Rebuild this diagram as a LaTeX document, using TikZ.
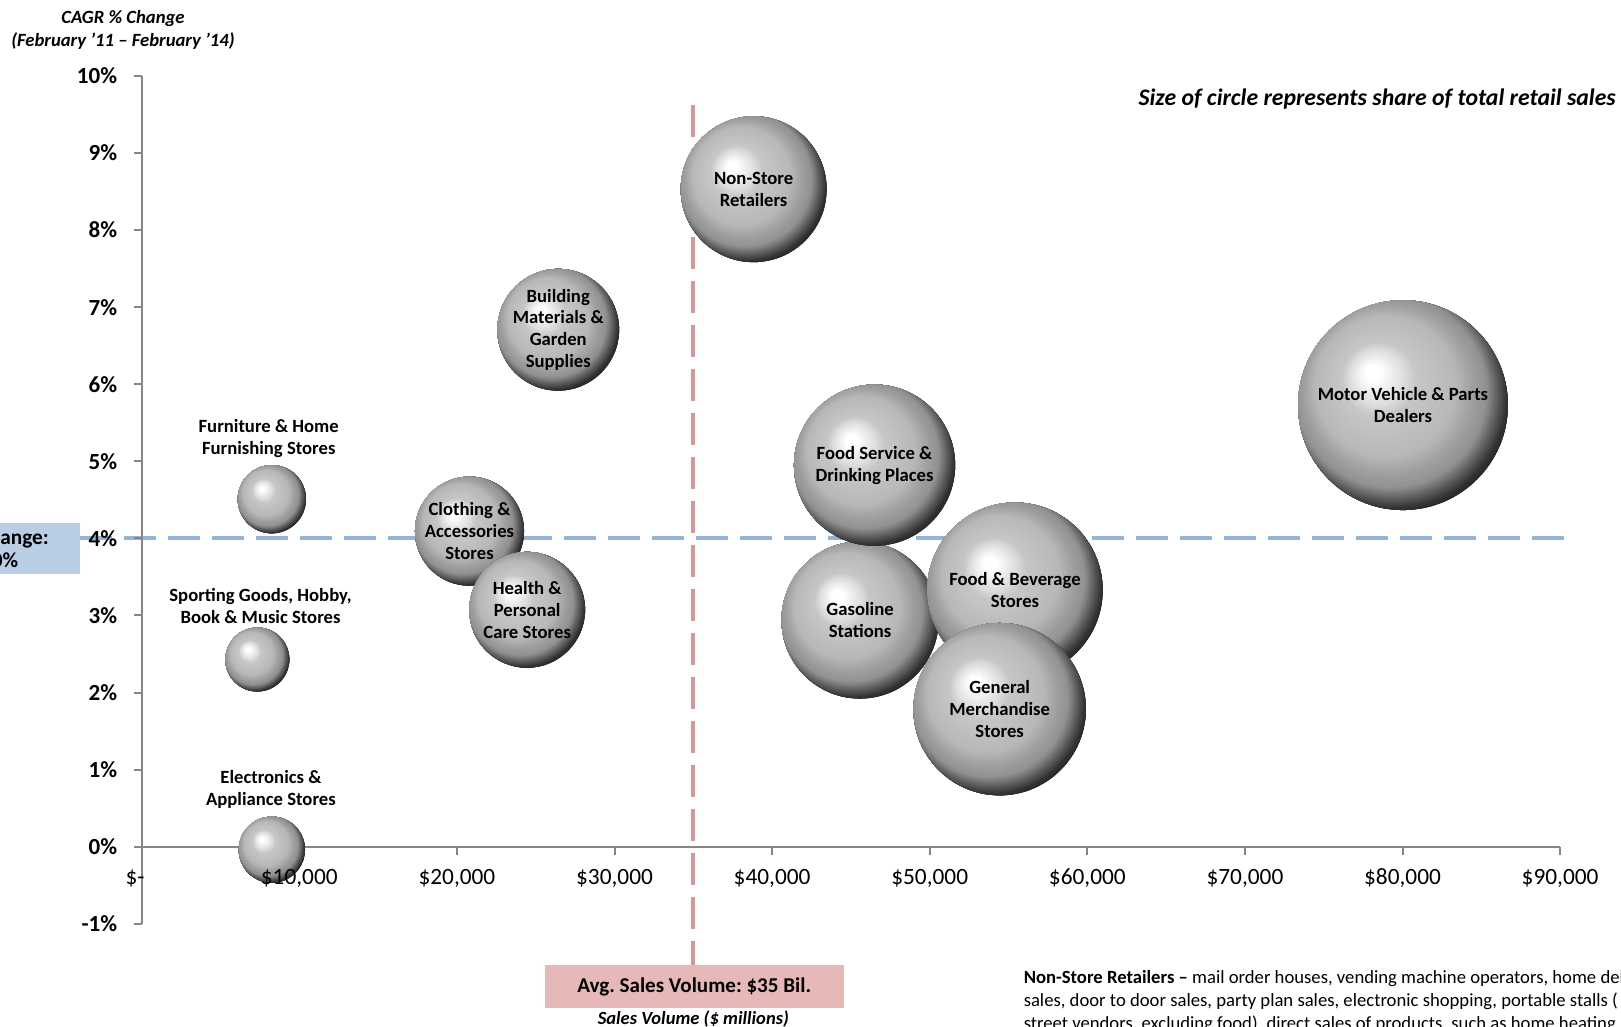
\documentclass[tikz,border=0pt]{standalone}
\usepackage{fontspec}
\setmainfont{Carlito}
\usetikzlibrary{positioning}
\frenchspacing
\definecolor{axisgray}{HTML}{868686}
\definecolor{avgblue}{HTML}{95B3D7}
\definecolor{chgfill}{HTML}{B9CDE5}
\definecolor{avgpink}{HTML}{DA9694}
\definecolor{salesfill}{HTML}{E6B9B8}

\begin{document}
\begin{tikzpicture}[%
    x=118.2pt, y=57.8pt,
    axis/.style={draw=axisgray, line width=1.5pt},
    ylab/.style={anchor=east, inner sep=0pt, font=\fontsize{17.3}{20}\selectfont\bfseries},
    xlab/.style={inner sep=0pt, font=\fontsize{17.5}{20}\selectfont},
    % #1 = diameter in pt; sphere look from offset circles, clipped to the node
    bubble/.style={%
      circle,
      minimum size=#1pt,
      inner sep=0pt,
      align=center,
      font=\fontsize{14}{16.3}\selectfont\bfseries,
      path picture={
        \foreach \s in {0,...,76} {
          \pgfmathsetmacro\bt{(76-\s)/100}
          \pgfmathsetmacro\bp{75*\bt}
          \pgfmathsetmacro\bg{\bp<4 ? 1 : (\bp<14 ? 1-(\bp-4)*0.014 : (\bp<18 ? 0.86-(\bp-14)*0.02 :
            (\bp<34 ? 0.78-(\bp-18)*0.00375 : (\bp<41 ? 0.72-(\bp-34)*0.0143 : (\bp<46 ? 0.62-(\bp-41)*0.01 :
            (\bp<54 ? 0.57-(\bp-46)*0.0463 : max(0.12,0.2-(\bp-54)*0.02)))))))}
          \pgfmathsetmacro\bpct{100*\bg}
          \fill[white!\bpct!black]
            ([shift={({-0.15*(1-\bt)*#1pt},{0.16*(1-\bt)*#1pt})}]path picture bounding box.center)
            circle[radius={0.75*\bt*#1pt}];
        }
      }
    },
    note/.style={align=center, inner sep=0pt, font=\fontsize{14}{16.3}\selectfont\bfseries},
    avgline/.style={line width=3pt, dash pattern=on 24pt off 9pt}
  ]
  \path[use as bounding box, clip] (-0.8991,-2.3394) rectangle (9.3864,10.986);

  % average boxes and lines
  \node[note, fill=chgfill, minimum width=131.7pt, minimum height=38.5pt,
    font=\fontsize{16}{17}\selectfont\bfseries] (avgchg) at (-0.9512,3.871) {Avg. Change:\\\hspace*{7.5pt}4.0\%};
  \node[note, fill=salesfill, minimum width=224.1pt, minimum height=32.6pt,
    font=\fontsize{15.8}{18}\selectfont\bfseries] (avgsales) at (3.5057,-1.8166) {Avg. Sales Volume: \$35 Bil.};
  \coordinate (vtop) at (3.5,9.624);
  \coordinate (hend) at (9.037,4);
  \draw[avgline, avgblue] (avgchg.east |- hend) -- (hend);
  \draw[avgline, avgpink] (vtop) -- (vtop |- avgsales.north);

  % axes
  \draw[axis] (0,-1) -- (0,10);
  \draw[axis] (0,0) -- (9,0);
  \foreach \y in {-1,...,10}
    \draw[axis] (0,\y) -- ++(-6pt,0);
  \foreach \x in {1,...,9}
    \draw[axis] (\x,0) -- ++(0,-6pt);

  % bubbles
  \node[bubble=157.4] (motor) at (8.003,5.729) {Motor Vehicle \& Parts\\Dealers};
  \node[bubble=109.4] (nonstore) at (3.883,8.531) {Non-Store\\Retailers};
  \node[bubble=90.8] (building) at (2.643,6.707) {Building\\Materials \&\\Garden\\Supplies};
  \node[bubble=51.2] (furniture) at (0.826,4.508) {};
  \node[bubble=48] (sporting) at (0.734,2.428) {};
  \node[bubble=49.7] (electronics) at (0.826,-0.040) {};
  \node[bubble=81.8] (clothing) at (2.080,4.094) {Clothing \&\\Accessories\\Stores};
  \node[bubble=86.9] (health) at (2.446,3.073) {Health \&\\Personal\\Care Stores};
  \node[bubble=117.8] (gasoline) at (4.558,2.941) {Gasoline\\Stations};
  \node[bubble=120.9] (foodserv) at (4.650,4.950) {Food Service \&\\Drinking Places};
  \node[bubble=131.6] (foodbev) at (5.541,3.327) {Food \& Beverage\\Stores};
  \node[bubble=129.3] (genmerch) at (5.444,1.784) {General\\Merchandise\\Stores};

  \node[note] (furnlab) at (0.806,5.299) {Furniture \& Home\\Furnishing Stores};
  \node[note] (sportlab) at (0.754,3.126) {Sporting Goods, Hobby,\\Book \& Music Stores};
  \node[note] (electlab) at (0.820,0.738) {Electronics \&\\Appliance Stores};

  % tick labels
  \foreach \y in {-1,...,10}
    \node[ylab] (ylab\y) at ([xshift=-18.2pt]0,\y) {\y\%};
  \node[xlab] (xlab0) at ([xshift=-5pt,yshift=-23.5pt]0,0) {\$-};
  \foreach \x in {1,...,9}
    \node[xlab] (xlab\x) at ([yshift=-23.5pt]\x,0) {\$\x0,000};

  % titles and notes
  \node[align=center, inner sep=0pt, font=\fontsize{14}{17.1}\selectfont\bfseries\itshape] (ytitle)
    at (-0.1186,10.597) {CAGR \% Change\\(February ’11 – February ’14)};
  \node[anchor=east, inner sep=0pt, font=\fontsize{17.8}{20}\selectfont\bfseries\itshape] (sizenote)
    at (9.355,9.702) {Size of circle represents share of total retail sales};
  \node[inner sep=0pt, font=\fontsize{13.9}{16}\selectfont\bfseries\itshape] (xtitle)
    at (3.5,-2.241) {Sales Volume (\$ millions)};
  \node[anchor=base west, align=left, inner sep=0pt, font=\fontsize{14}{17.25}\selectfont] (nsnote)
    at (5.595,-2.370) {\textbf{Non-Store Retailers –} mail order houses, vending machine operators, home delivery\\
    sales, door to door sales, party plan sales, electronic shopping, portable stalls (\\
    street vendors, excluding food), direct sales of products, such as home heating};
\end{tikzpicture}
\end{document}
